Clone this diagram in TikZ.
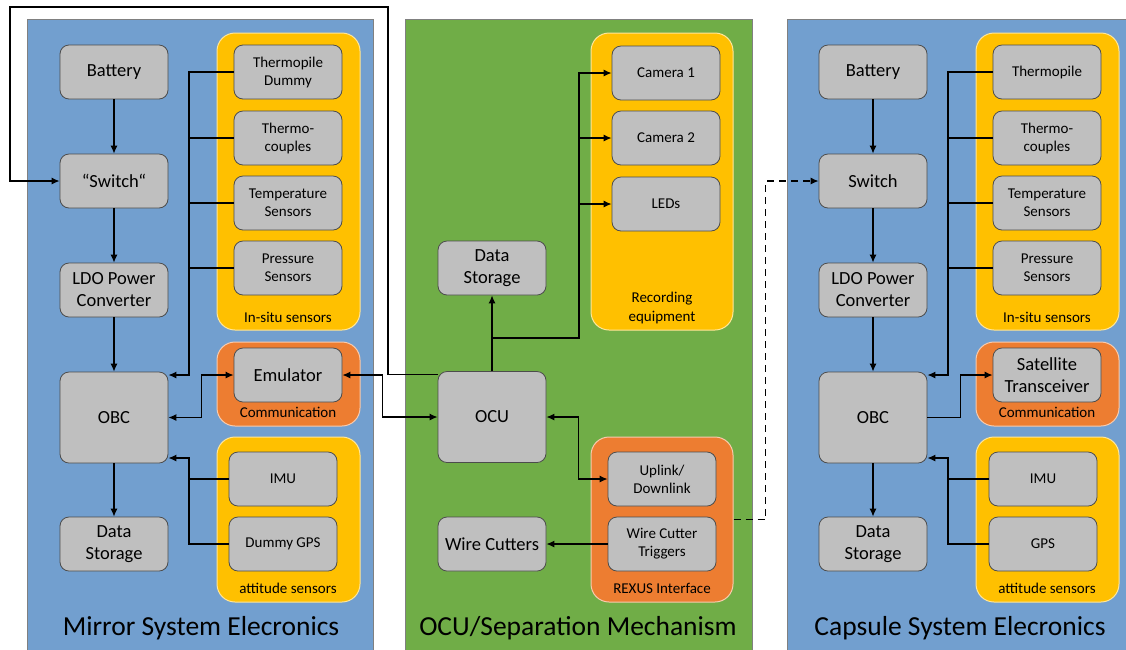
\documentclass[tikz,border=0pt]{standalone}
\usepackage{fontspec}
\setmainfont{Carlito}
\usetikzlibrary{arrows.meta}
\definecolor{panelblue}{RGB}{114,159,207}
\definecolor{panelgreen}{RGB}{112,173,71}
\definecolor{grporange}{RGB}{237,125,49}
\definecolor{grpyellow}{RGB}{255,192,0}
\definecolor{boxgray}{RGB}{191,191,191}
\begin{document}
\begin{tikzpicture}[x=1pt,y=-1pt,
    blk/.style={draw=black!70,fill=boxgray,rounded corners=9pt,minimum width=108pt,minimum height=54pt,
      align=center,line width=0.8pt,font=\fontsize{18.5}{22}\selectfont},
    sblk/.style={blk,font=\fontsize{15}{18}\selectfont},
    grp/.style={fill=#1,draw=white!60!#1,rounded corners=18pt,line width=1pt},
    glabel/.style={font=\fontsize{15}{19}\selectfont,align=center},
    panel/.style={fill=#1,draw=black!50,line width=0.8pt},
    title/.style={font=\fontsize{27.5}{30}\selectfont},
    arr/.style={line width=1.2pt,-{Latex[length=8pt,width=7pt]}},
    darr/.style={line width=1.2pt,{Latex[length=8pt,width=7pt]}-{Latex[length=8pt,width=7pt]}},
    bus/.style={line width=1.2pt}]
  \useasboundingbox (0,0) rectangle (1126,649);
  \draw[panel=panelblue] (27,19) rectangle (373,660);
  \draw[panel=panelgreen] (405,19) rectangle (752,660);
  \draw[panel=panelblue] (787,19) rectangle (1132,660);

  % mirror system
  \node[grp=grpyellow,minimum width=143pt,minimum height=297pt] (minsitu) at (288.5,181.5) {};
  \node[grp=grporange,minimum width=143pt,minimum height=84pt] (mcomm) at (288.5,384) {};
  \node[grp=grpyellow,minimum width=143pt,minimum height=165pt] (matt) at (288.5,519.5) {};
  \node[glabel] (minsitul) at (288,317) {In-situ sensors};
  \node[glabel] (mcomml) at (288,412) {Communication};
  \node[glabel] (mattl) at (288,588) {attitude sensors};
  \node[blk] (mbat) at (114,72) {Battery};
  \node[blk] (msw) at (114,181) {“Switch“};
  \node[blk] (mldo) at (114,290) {LDO Power\\Converter};
  \node[blk,minimum height=91pt] (mobc) at (114,417.5) {OBC};
  \node[blk] (mds) at (114,544) {Data\\Storage};
  \node[sblk] (mthp) at (288,72) {Thermopile\\Dummy};
  \node[sblk] (mtc) at (288,138) {Thermo-\\couples};
  \node[sblk] (mtemp) at (288,203) {Temperature\\Sensors};
  \node[sblk] (mpres) at (288,268) {Pressure\\Sensors};
  \node[blk] (memu) at (288,375) {Emulator};
  \node[sblk] (mimu) at (283,479) {IMU};
  \node[sblk] (mgps) at (283,544) {Dummy GPS};
  \node[title] (mtitle) at (201,628) {Mirror System Elecronics};
  \coordinate (mbus) at (189,375);
  \coordinate (mabus) at (189,458);
  \draw[arr] (mbat) -- (msw);
  \draw[arr] (msw) -- (mldo);
  \draw[arr] (mldo) -- (mobc);
  \draw[arr] (mobc) -- (mds);
  \draw[arr] (mthp.west) -| (mbus) -- (mobc.east |- mbus);
  \draw[bus] (mtc.west) -- (mtc.west -| mbus);
  \draw[bus] (mtemp.west) -- (mtemp.west -| mbus);
  \draw[bus] (mpres.west) -- (mpres.west -| mbus);
  \draw[darr] (mobc.east) -- ++(33,0) |- (memu.west);
  \draw[arr] (mgps.west) -| (mabus) -- (mobc.east |- mabus);
  \draw[bus] (mimu.west) -- (mimu.west -| mabus);

  % OCU / separation
  \node[grp=grpyellow,minimum width=142pt,minimum height=297pt] (crec) at (662,181.5) {};
  \node[grp=grporange,minimum width=142pt,minimum height=165pt] (crexus) at (662,519.5) {};
  \node[glabel] (crecl) at (662,307.5) {Recording\\equipment};
  \node[glabel] (crexusl) at (662,588) {REXUS Interface};
  \node[sblk] (ccam1) at (666,73) {Camera 1};
  \node[sblk] (ccam2) at (666,138) {Camera 2};
  \node[sblk] (cled) at (666,204) {LEDs};
  \node[blk] (cds) at (492,268) {Data\\Storage};
  \node[blk,minimum height=91pt] (cocu) at (492,417) {OCU};
  \node[blk] (cwc) at (492,544) {Wire Cutters};
  \node[sblk] (cup) at (662,479) {Uplink/\\Downlink};
  \node[sblk] (cwct) at (662,544) {Wire Cutter\\Triggers};
  \node[title] (ctitle) at (578,628) {OCU/Separation Mechanism};
  \coordinate (cj) at (492,338);
  \coordinate (cbus) at (579,73);
  \draw[arr] (cocu) -- (cds);
  \draw[arr] (cj) -| (cbus) -- (ccam1.west);
  \draw[arr] (ccam2.west -| cbus) -- (ccam2.west);
  \draw[arr] (cled.west -| cbus) -- (cled.west);
  \draw[darr] (cocu.east) -- ++(32,0) |- (cup.west);
  \draw[arr] (cwct) -- (cwc);
  \draw[darr] (memu.east) -- ++(40,0) |- (cocu.west);
  \draw[arr] ([yshift=-3pt]cocu.north west) -| (388,7) -| (10,181) -- (msw.west);

  % capsule system
  \node[grp=grpyellow,minimum width=143pt,minimum height=297pt] (kinsitu) at (1047.5,181.5) {};
  \node[grp=grporange,minimum width=143pt,minimum height=84pt] (kcomm) at (1047.5,384) {};
  \node[grp=grpyellow,minimum width=143pt,minimum height=165pt] (katt) at (1047.5,519.5) {};
  \node[glabel] (kinsitul) at (1047,317) {In-situ sensors};
  \node[glabel] (kcomml) at (1047,412) {Communication};
  \node[glabel] (kattl) at (1047,588) {attitude sensors};
  \node[blk] (kbat) at (873,72) {Battery};
  \node[blk] (ksw) at (873,181) {Switch};
  \node[blk] (kldo) at (873,290) {LDO Power\\Converter};
  \node[blk,minimum height=91pt] (kobc) at (873,417.5) {OBC};
  \node[blk] (kds) at (873,544) {Data\\Storage};
  \node[sblk] (kthp) at (1047,72) {Thermopile};
  \node[sblk] (ktc) at (1047,138) {Thermo-\\couples};
  \node[sblk] (ktemp) at (1047,203) {Temperature\\Sensors};
  \node[sblk] (kpres) at (1047,268) {Pressure\\Sensors};
  \node[blk] (ksat) at (1047,375) {Satellite\\Transceiver};
  \node[sblk] (kimu) at (1043,479) {IMU};
  \node[sblk] (kgps) at (1043,544) {GPS};
  \node[title] (ktitle) at (960,628) {Capsule System Elecronics};
  \coordinate (kbus) at (948,375);
  \coordinate (kabus) at (948,458);
  \draw[arr] (kbat) -- (ksw);
  \draw[arr] (ksw) -- (kldo);
  \draw[arr] (kldo) -- (kobc);
  \draw[arr] (kobc) -- (kds);
  \draw[arr] (kthp.west) -| (kbus) -- (kobc.east |- kbus);
  \draw[bus] (ktc.west) -- (ktc.west -| kbus);
  \draw[bus] (ktemp.west) -- (ktemp.west -| kbus);
  \draw[bus] (kpres.west) -- (kpres.west -| kbus);
  \draw[arr] (kobc.east) -- ++(33,0) |- (ksat.west);
  \draw[arr] (kgps.west) -| (kabus) -- (kobc.east |- kabus);
  \draw[bus] (kimu.west) -- (kimu.west -| kabus);
  \draw[arr,dashed,dash pattern=on 7pt off 5pt] (crexus.east) -- ++(32,0) |- (ksw.west);
\end{tikzpicture}
\end{document}
